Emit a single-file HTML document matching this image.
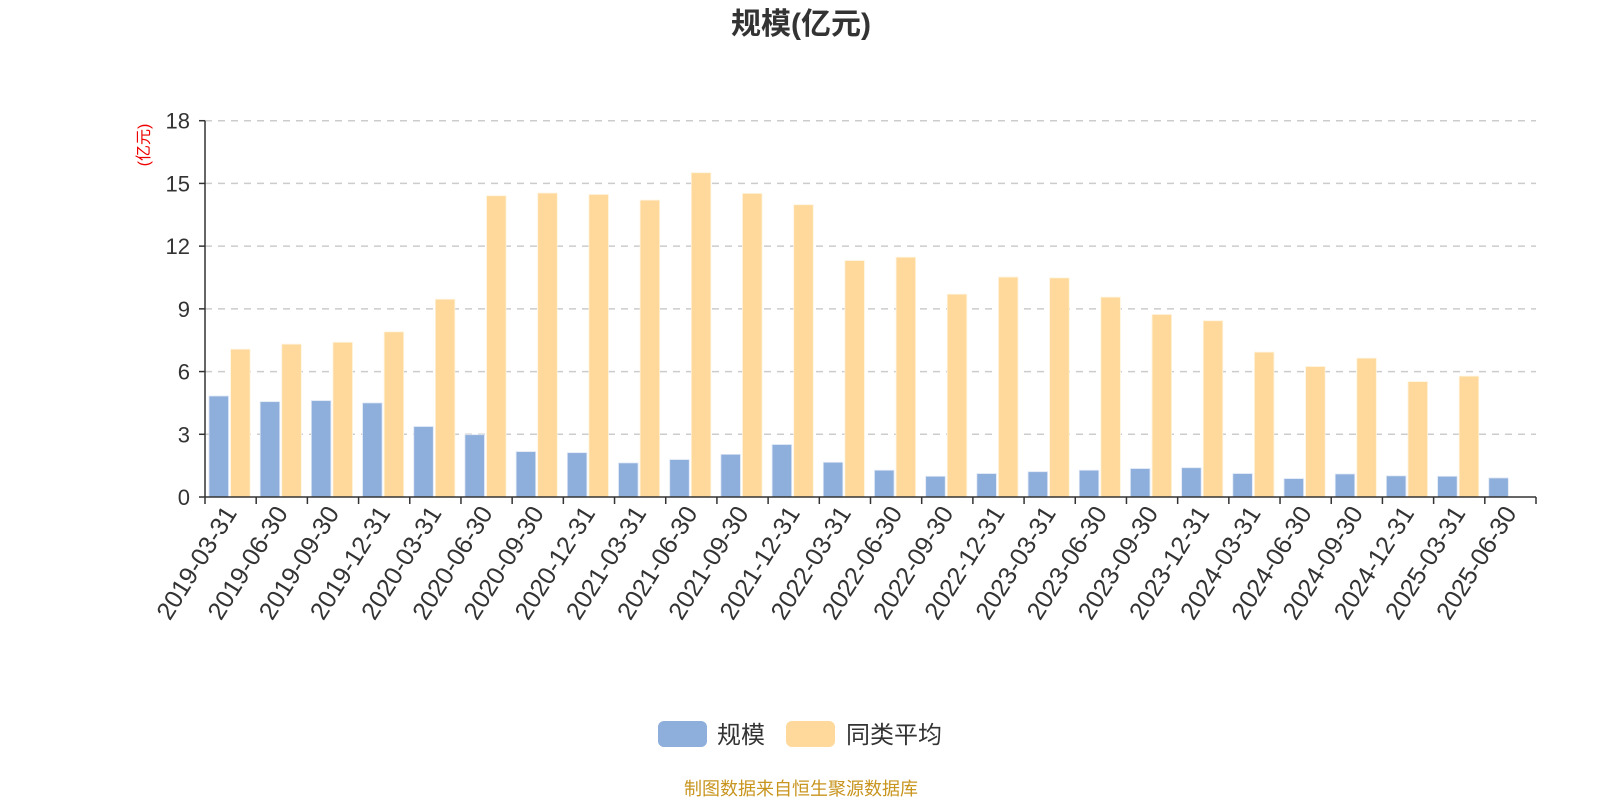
<!DOCTYPE html>
<html><head><meta charset="utf-8"><style>
body{margin:0;background:#fff;}
svg{display:block;font-family:"Liberation Sans","Noto Sans CJK SC",sans-serif;}
</style></head><body>
<svg id="chart" width="1600" height="800">
<text x="801" y="34" text-anchor="middle" font-size="30" font-weight="bold" fill="#333">规模(亿元)</text>
<text transform="translate(149,145) rotate(-90)" text-anchor="middle" font-size="16" fill="#e00">(亿元)</text>
<g id="grid"></g><g id="bars"></g><g id="axes"></g>
<g>
<rect x="658" y="721" width="49" height="26" rx="6" fill="#8eaedb"/>
<text x="717" y="743" font-size="24" fill="#333">规模</text>
<rect x="786" y="721" width="49" height="26" rx="6" fill="#fed99b"/>
<text x="846" y="743" font-size="24" fill="#333">同类平均</text>
</g>
<text x="801" y="795" text-anchor="middle" font-size="18" fill="#c8951f">制图数据来自恒生聚源数据库</text>
</svg>
<script>
const categories=["2019-03-31","2019-06-30","2019-09-30","2019-12-31","2020-03-31","2020-06-30","2020-09-30","2020-12-31","2021-03-31","2021-06-30","2021-09-30","2021-12-31","2022-03-31","2022-06-30","2022-09-30","2022-12-31","2023-03-31","2023-06-30","2023-09-30","2023-12-31","2024-03-31","2024-06-30","2024-09-30","2024-12-31","2025-03-31","2025-06-30"];
const scaleValues=[4.83,4.56,4.61,4.50,3.37,2.98,2.17,2.12,1.63,1.79,2.04,2.51,1.66,1.28,0.99,1.12,1.21,1.28,1.36,1.40,1.12,0.88,1.10,1.01,0.99,0.91];
const avgValues=[7.07,7.31,7.40,7.90,9.46,14.41,14.54,14.47,14.20,15.51,14.52,13.98,11.31,11.47,9.70,10.52,10.48,9.56,8.73,8.43,6.93,6.24,6.64,5.52,5.78,null];
const yTicks=[0,3,6,9,12,15,18];
const NS="http://www.w3.org/2000/svg";
const X0=205,X1=1536,Y0=497,Y1=120.7,YMAX=18;
const band=(X1-X0)/categories.length;
const yS=v=>Y0-(v/YMAX)*(Y0-Y1);
const xS=i=>X0+i*band;
function mk(tag,attrs,parent){const e=document.createElementNS(NS,tag);for(const k in attrs)e.setAttribute(k,attrs[k]);parent.appendChild(e);return e;}
const grid=document.getElementById('grid'),bars=document.getElementById('bars'),axes=document.getElementById('axes');
yTicks.forEach(t=>{
  const y=yS(t);
  if(t>0){const g=mk('line',{x1:X0,x2:X1,y1:y,y2:y,stroke:'#ccc','stroke-width':1.5,'stroke-dasharray':'7,6'},grid);
  
  }
  const tk=mk('line',{x1:X0-6,x2:X0,y1:y,y2:y,stroke:'#333','stroke-width':1.5},axes);
  
  
  const lb=mk('text',{x:X0-15,y:y+8,'text-anchor':'end','font-size':22,fill:'#333'},axes);
  lb.textContent=t;
  
  
});
const bw=19.5;
categories.forEach((c,i)=>{
  const x=xS(i);
  if(scaleValues[i]!=null){const r=mk('rect',{x:x+4,y:yS(scaleValues[i]),width:bw,height:Y0-yS(scaleValues[i]),fill:'#8eaedb',stroke:'#dde7f5','stroke-width':0.8},bars);
  
  }
  if(avgValues[i]!=null){const r=mk('rect',{x:x+25.6,y:yS(avgValues[i]),width:bw,height:Y0-yS(avgValues[i]),fill:'#fed99b',stroke:'#fff3dc','stroke-width':0.8},bars);
  
  }
  const cx=x+band/2;
  const tl=mk('text',{transform:`translate(${cx+7},${Y0+16}) rotate(-58)`,'text-anchor':'end','font-size':25,fill:'#333'},axes);
  tl.textContent=c;
  
  
});
for(let i=0;i<=categories.length;i++){const t=mk('line',{x1:xS(i),x2:xS(i),y1:Y0,y2:Y0+7,stroke:'#333','stroke-width':1.5},axes);

}
const ya=mk('line',{x1:X0,x2:X0,y1:Y1,y2:Y0,stroke:'#333','stroke-width':1.5},axes);


const xa=mk('line',{x1:X0,x2:X1,y1:Y0,y2:Y0,stroke:'#333','stroke-width':1.5},axes);


</script>
</body></html>
